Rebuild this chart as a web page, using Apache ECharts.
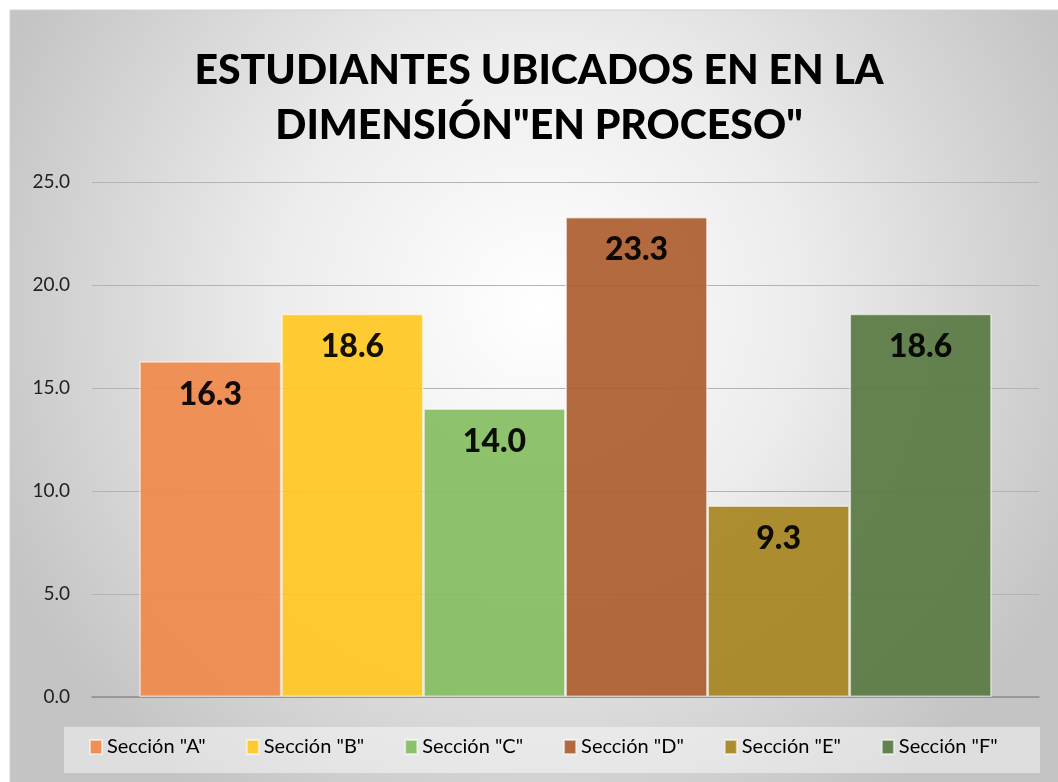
<!DOCTYPE html>
<html>
<head>
<meta charset="utf-8">
<script src="https://cdn.jsdelivr.net/npm/echarts@6/dist/echarts.min.js"></script>
<style>
    html, body { margin: 0; padding: 0; background: #fff; }
    #chart { width: 1058px; height: 782px; }
</style>
</head>
<body>
<div id="chart"></div>
<script>
// datos del gráfico
const secciones = ['Sección "A"', 'Sección "B"', 'Sección "C"', 'Sección "D"', 'Sección "E"', 'Sección "F"'];
const valores = [16.3, 18.6, 14.0, 23.3, 9.3, 18.6];
const colores = ['#f08a4b', '#ffc822', '#84bd60', '#ac5d2e', '#a68520', '#587a42'];
const yTicks = [0, 5, 10, 15, 20, 25];

const chart = echarts.init(document.getElementById('chart'));

const series = secciones.map((name, i) => ({
    name,
    type: 'bar',
    barGap: 0,
    barCategoryGap: '10%',
    data: [valores[i]],
    itemStyle: {
        color: colores[i],
        opacity: 0.92,
        borderColor: 'rgba(255,255,255,0.6)',
        borderWidth: 1.5
    },
    label: {
        show: true,
        position: 'insideTop',
        distance: 17,
        formatter: (p) => p.value.toFixed(1),
        fontFamily: 'Lato',
        fontWeight: 900,
        fontSize: 32,
        color: '#000'
    }
}));

chart.setOption({
    animation: false,
    backgroundColor: '#fff',
    graphic: [
        {
            // fondo del área del gráfico
            type: 'rect',
            z: -10,
            silent: true,
            shape: { x: 10, y: 10, width: 1058, height: 782 },
            style: {
                fill: {
                    type: 'radial',
                    x: 0.5, y: 0.38, r: 0.75,
                    colorStops: [
                        { offset: 0, color: '#ffffff' },
                        { offset: 0.45, color: '#ececec' },
                        { offset: 1, color: '#c4c4c4' }
                    ]
                },
                stroke: '#d0d0d0',
                lineWidth: 1
            }
        },
        {
            // caja de la leyenda
            type: 'rect',
            z: -5,
            silent: true,
            shape: { x: 64, y: 727, width: 976, height: 46 },
            style: { fill: 'rgba(255,255,255,0.45)' }
        }
    ],
    title: {
        text: 'ESTUDIANTES UBICADOS EN EN LA\nDIMENSIÓN"EN PROCESO"',
        left: 534,
        textAlign: 'center',
        top: 38,
        textStyle: {
            fontFamily: 'Lato',
            fontWeight: 900,
            fontSize: 41,
            lineHeight: 55,
            color: '#000'
        }
    },
    legend: {
        bottom: 20,
        left: 84,
        itemWidth: 12,
        itemHeight: 14,
        itemGap: 40,
        icon: 'rect',
        textStyle: {
            fontFamily: 'Lato',
            fontSize: 20,
            color: '#000'
        }
    },
    grid: {
        left: 92,
        right: 19,
        top: 182,
        bottom: 85
    },
    xAxis: {
        type: 'category',
        data: [''],
        axisTick: { show: false },
        axisLabel: { show: false },
        axisLine: { lineStyle: { color: '#8c8c8c', width: 1.5 } }
    },
    yAxis: {
        type: 'value',
        min: yTicks[0],
        max: yTicks[yTicks.length - 1],
        interval: 5,
        axisLabel: {
            formatter: (v) => v.toFixed(1),
            fontFamily: 'Lato',
            fontSize: 19,
            color: '#222',
            margin: 22
        },
        axisLine: { show: false },
        axisTick: { show: false },
        splitLine: { lineStyle: { color: '#b3b3b3', width: 1 } }
    },
    series
});
</script>
</body>
</html>
